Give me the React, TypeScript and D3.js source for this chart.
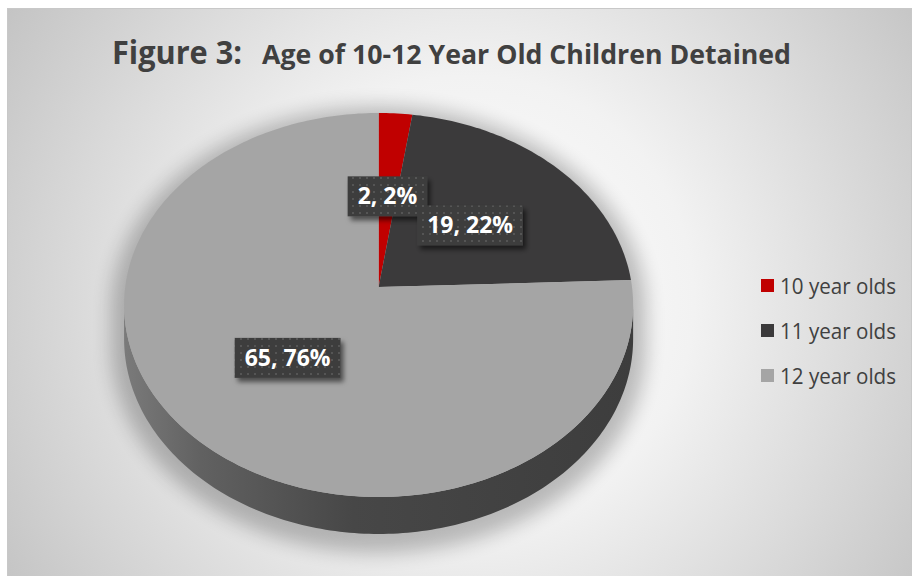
import React from "react";
import * as d3 from "d3";

const categories = ["10 year olds", "11 year olds", "12 year olds"];
const values = [2, 19, 65];
const colors = ["#c00000", "#3b3a3b", "#a5a5a5"];
const titleLead = "Figure 3:";
const titleMain = "Age of 10-12 Year Old Children Detained";

const W = 914;
const H = 576;
// projection parameters for the tilted (perspective) pie
const CX = 378.6;
const CY = 287;
const A = 253.4;
const B = 190.3;
const K = 0.09375;
const D = 33.5;

function proj(theta: number, r: number, depth = 0): [number, number] {
  const u = r * Math.sin(theta);
  const v = -r * Math.cos(theta);
  const w = 1 - K * v;
  return [CX + (A * u) / w, CY + (B * v) / w + (D * depth) / w];
}

function arcPoints(a0: number, a1: number, depth = 0): [number, number][] {
  const n = Math.max(2, Math.ceil(((a1 - a0) * 180) / Math.PI));
  return d3.range(n + 1).map((i) => proj(a0 + ((a1 - a0) * i) / n, 1, depth));
}

const measureCtx: CanvasRenderingContext2D | null =
  typeof document !== "undefined" ? document.createElement("canvas").getContext("2d") : null;
function textWidth(t: string, font: string): number {
  if (!measureCtx) return t.length * 11;
  measureCtx.font = font;
  return measureCtx.measureText(t).width;
}

export default function App() {
  const total = d3.sum(values);
  const pie = d3.pie<number>().sort(null).startAngle(0).endAngle(2 * Math.PI);
  const arcs = pie(values);
  const line = d3.line();

  const T1 = Math.acos(-K);
  const T2 = 2 * Math.PI - T1;

  const topPaths = arcs.map((a) => {
    const pts = [proj(0, 0), ...arcPoints(a.startAngle, a.endAngle)];
    return line(pts) + "Z";
  });

  const sidePaths = arcs
    .map((a, i) => {
      const s = Math.max(a.startAngle, T1);
      const e = Math.min(a.endAngle, T2);
      if (e <= s) return null;
      const top = arcPoints(s, e, 0);
      const bot = arcPoints(s, e, 1).reverse();
      return { i, d: line([...top, ...bot]) + "Z" };
    })
    .filter(Boolean) as { i: number; d: string }[];

  const silhouette =
    line([...arcPoints(0, 2 * Math.PI, 0)]) + "Z" + line([...arcPoints(T1, T2, 0), ...arcPoints(T1, T2, 1).reverse()]) + "Z";

  const labelFont = 'bold 23px "Open Sans"';
  const labels = arcs.map((a, i) => {
    const mid = (a.startAngle + a.endAngle) / 2;
    const [x, y] = proj(mid, 0.5);
    const pct = Math.round((values[i] / total) * 100);
    const text = `${values[i]}, ${pct}%`;
    const tw = textWidth(text, labelFont);
    return { x, y, text, w: tw + 20, h: 40 };
  });

  const legendY = d3.scalePoint<string>().domain(categories).range([286, 376]);

  return (
    <svg
      width={W}
      height={H}
      style={{ position: "absolute", left: 0, top: 0 }}
      xmlns="http://www.w3.org/2000/svg"
    >
      <defs>
        <radialGradient id="bg" gradientUnits="userSpaceOnUse" cx={470} cy={300} r={560}>
          <stop offset="0" stopColor="#ffffff" />
          <stop offset="0.4" stopColor="#f2f2f2" />
          <stop offset="1" stopColor="#c2c2c2" />
        </radialGradient>
        <linearGradient id="side" gradientUnits="userSpaceOnUse" x1={CX - A} x2={CX + A} y1={0} y2={0}>
          <stop offset="0" stopColor="#7a7a7a" />
          <stop offset="0.15" stopColor="#616161" />
          <stop offset="0.45" stopColor="#474747" />
          <stop offset="1" stopColor="#3d3d3d" />
        </linearGradient>
        <pattern id="dots" width="7" height="7" patternUnits="userSpaceOnUse">
          <rect width="7" height="7" fill="#3d3d3d" />
          <rect x="2" y="2" width="2" height="2" fill="#555555" />
        </pattern>
        <filter id="blur" x="-20%" y="-20%" width="140%" height="140%">
          <feGaussianBlur stdDeviation="9" />
        </filter>
        <filter id="lblShadow" x="-30%" y="-30%" width="160%" height="180%">
          <feDropShadow dx="3" dy="4" stdDeviation="2.5" floodColor="#000" floodOpacity="0.55" />
        </filter>
        <clipPath id="chartClip">
          <rect x={7} y={8} width={905} height={H - 8} />
        </clipPath>
      </defs>

      <rect x={7.5} y={8.5} width={904} height={H} fill="url(#bg)" stroke="#c8c8c8" strokeWidth={1} />

      <g clipPath="url(#chartClip)">
        <g transform={`translate(${CX},${CY + 40}) scale(1.05,1.06) translate(${-CX},${-(CY + 34)})`}>
          <path d={silhouette} fill="#000" opacity={0.24} filter="url(#blur)" />
        </g>
      </g>

      {sidePaths.map((s) => (
        <path key={"side" + s.i} d={s.d} fill="url(#side)" />
      ))}

      {topPaths.map((d, i) => (
        <path key={"top" + i} d={d} fill={colors[i]} />
      ))}

      {labels.map((l, i) => (
        <g key={"lbl" + i}>
          <rect
            x={l.x - l.w / 2}
            y={l.y - l.h / 2}
            width={l.w}
            height={l.h}
            fill="url(#dots)"
            filter="url(#lblShadow)"
          />
          <text
            x={l.x}
            y={l.y + 8}
            textAnchor="middle"
            fill="#ffffff"
            style={{ font: labelFont }}
          >
            {l.text}
          </text>
        </g>
      ))}

      {categories.map((c, i) => {
        const y = legendY(c)!;
        return (
          <g key={"leg" + i}>
            <rect x={761} y={y - 7} width={13} height={13} fill={colors[i]} />
            <text
              x={780}
              y={y + 7.5}
              fill="#404040"
              style={{ font: '21px "Open Sans"' }}
              textLength={116}
              lengthAdjust="spacingAndGlyphs"
            >
              {c}
            </text>
          </g>
        );
      })}

      <text
        x={112}
        y={64}
        fill="#404040"
        style={{ font: 'bold 32px "Open Sans"' }}
        textLength={130}
        lengthAdjust="spacingAndGlyphs"
      >
        {titleLead}
      </text>
      <text
        x={262}
        y={64}
        fill="#404040"
        style={{ font: 'bold 26px "Open Sans"' }}
        textLength={529}
        lengthAdjust="spacingAndGlyphs"
      >
        {titleMain}
      </text>
    </svg>
  );
}
